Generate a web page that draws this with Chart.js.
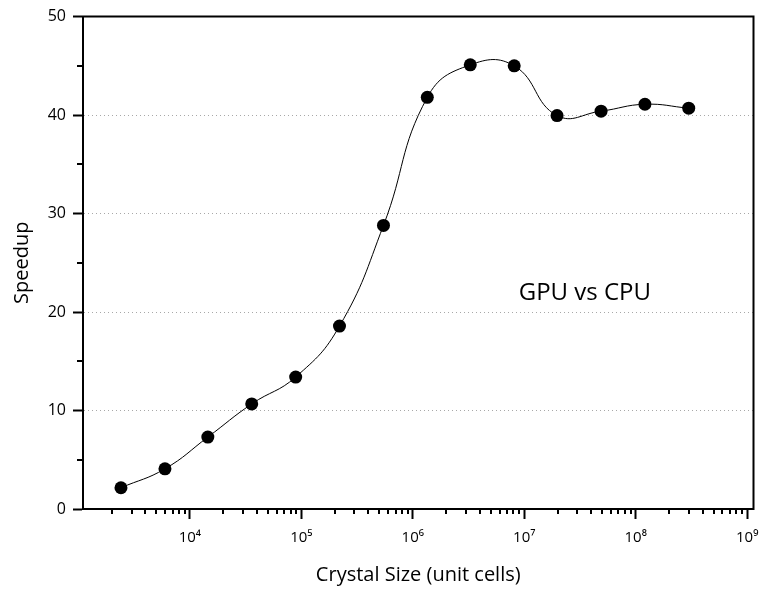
<!DOCTYPE html>
<html lang="en">

<head>
    <meta charset="UTF-8" />
    <title>Speedup</title>
    <style>
        * {
            margin: 0;
            padding: 0;
        }

        body {
            background: #ffffff;
        }

        .chartBox {
            width: 760px;
            height: 590px;
        }
    </style>
</head>

<body>
    <div class="chartBox">
        <canvas id="myChart"></canvas>
    </div>
    <script src="https://cdn.jsdelivr.net/npm/chart.js@4.4.1/dist/chart.umd.min.js"></script>
    <script>
        // values
        const crystalSizes = [2410, 5980, 14500, 35900, 89000, 220000, 546000, 1350000, 3280000, 8130000, 19700000, 48900000, 121000000, 299000000];
        const speedups = [2.16, 4.08, 7.3, 10.67, 13.4, 18.57, 28.8, 41.8, 45.1, 45.0, 39.95, 40.4, 41.1, 40.7];
        const yTicks = [0, 10, 20, 30, 40, 50];
        const yMinorTicks = [5, 15, 25, 35, 45];
        const label = "GPU vs CPU";

        const FONT = "'Open Sans', 'DejaVu Sans', sans-serif";
        Chart.defaults.font.family = FONT;
        Chart.defaults.color = "#000";

        const sup = { "0": "⁰", "1": "¹", "2": "²", "3": "³", "4": "⁴", "5": "⁵", "6": "⁶", "7": "⁷", "8": "⁸", "9": "⁹" };

        const isPow10 = (v) => {
            const e = Math.log10(v);
            return Math.abs(e - Math.round(e)) < 1e-9;
        };
        const isMinor = (v) => {
            if (isPow10(v)) return false;
            const s = v / Math.pow(10, Math.floor(Math.log10(v) + 1e-12));
            return Math.abs(s - Math.round(s)) < 1e-6;
        };

        const points = crystalSizes.map((x, i) => ({ x: x, y: speedups[i] }));

        const extras = {
            id: "extras",
            afterDraw(chart) {
                const { ctx, chartArea: a, scales: { x, y } } = chart;
                ctx.save();
                ctx.strokeStyle = "#000";
                ctx.lineWidth = 2;
                // top and right frame
                ctx.beginPath();
                ctx.moveTo(a.left - 1, a.top);
                ctx.lineTo(a.right, a.top);
                ctx.lineTo(a.right, a.bottom + 1);
                ctx.stroke();
                // minor ticks
                ctx.beginPath();
                x.ticks.forEach(t => {
                    if (isMinor(t.value)) {
                        const px = Math.round(x.getPixelForValue(t.value));
                        ctx.moveTo(px, a.bottom);
                        ctx.lineTo(px, a.bottom + 5);
                    }
                });
                yMinorTicks.forEach(v => {
                    const py = Math.round(y.getPixelForValue(v));
                    ctx.moveTo(a.left, py);
                    ctx.lineTo(a.left - 6, py);
                });
                ctx.stroke();
                // annotation
                ctx.fillStyle = "#000";
                ctx.font = "24px " + FONT;
                ctx.textAlign = "center";
                ctx.textBaseline = "middle";
                ctx.fillText(label, x.getPixelForValue(3.5e7), y.getPixelForValue(21.9));
                ctx.restore();
            }
        };

        const config = {
            type: "line",
            data: {
                datasets: [{
                    label: label,
                    data: points,
                    borderColor: "#000",
                    borderWidth: 1,
                    backgroundColor: "#000",
                    pointRadius: 6.5,
                    pointBackgroundColor: "#000",
                    pointBorderWidth: 0,
                    tension: 0.45,
                    fill: false
                }]
            },
            plugins: [extras],
            options: {
                responsive: true,
                maintainAspectRatio: false,
                animation: false,
                layout: {
                    padding: { top: 15, right: 5, left: 0, bottom: 0 }
                },
                plugins: {
                    legend: { display: false },
                    tooltip: { enabled: false }
                },
                scales: {
                    x: {
                        type: "logarithmic",
                        min: 1100,
                        max: 1.14e9,
                        border: { display: true, color: "#000", width: 2 },
                        grid: {
                            drawOnChartArea: false,
                            drawTicks: true,
                            tickLength: 10,
                            tickWidth: 2,
                            tickColor: (c) => (c.tick && isPow10(c.tick.value)) ? "#000" : "rgba(0,0,0,0)"
                        },
                        ticks: {
                            autoSkip: false,
                            maxRotation: 0,
                            padding: 10,
                            font: { size: 15 },
                            callback: (v) => {
                                if (!isPow10(v)) return "";
                                const e = String(Math.round(Math.log10(v)));
                                return "10" + e.split("").map(d => sup[d]).join("");
                            }
                        },
                        title: {
                            display: true,
                            text: "Crystal Size (unit cells)",
                            font: { size: 20 },
                            padding: { top: 3, bottom: 3 }
                        },
                        afterFit: (s) => {
                            s.height = 81;
                            s.paddingLeft = 0;
                            s.paddingRight = 0;
                        }
                    },
                    y: {
                        min: 0,
                        max: 50,
                        afterBuildTicks: (s) => {
                            s.ticks = yTicks.map(v => ({ value: v }));
                        },
                        border: { display: true, color: "#000", width: 2, dash: [1, 3] },
                        grid: {
                            color: (c) => (c.tick && (c.tick.value === 0 || c.tick.value === 50)) ? "rgba(0,0,0,0)" : "#a8a8a8",
                            lineWidth: 1,
                            tickLength: 10,
                            tickWidth: 2,
                            tickColor: "#000",
                            tickBorderDash: []
                        },
                        ticks: {
                            padding: 7,
                            font: { size: 16 }
                        },
                        title: {
                            display: true,
                            text: "Speedup",
                            font: { size: 20 },
                            padding: { top: 10, bottom: 0 }
                        },
                        afterFit: (s) => {
                            s.width = 83;
                        }
                    }
                }
            }
        };

        const ctx = document.getElementById("myChart").getContext("2d");
        const myChart = new Chart(ctx, config);
    </script>
</body>

</html>
